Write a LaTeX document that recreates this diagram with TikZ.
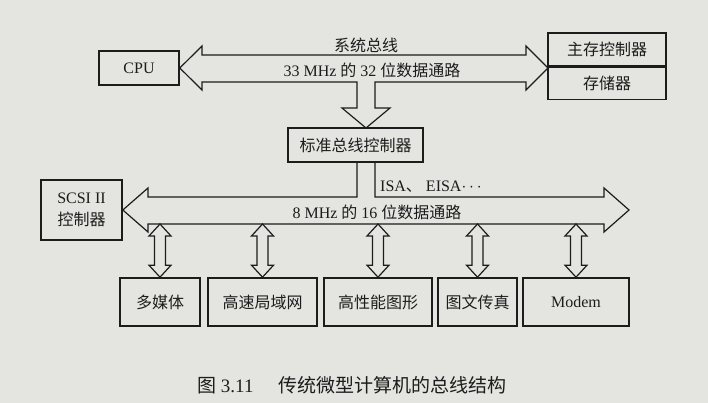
\documentclass[tikz,border=0pt]{standalone}
\usepackage{fontspec}
\setmainfont{Liberation Serif}
\newfontfamily\cjkfont{Noto Sans CJK SC}
\newcommand{\zh}[1]{{\cjkfont #1}}
\usepackage{tikz}
\usetikzlibrary{shapes,arrows,calc}
\definecolor{paper}{RGB}{228,228,225}
\definecolor{ink}{RGB}{28,28,28}

\begin{document}
\begin{tikzpicture}[x=1pt,y=-1pt,>=latex',ink,font=\fontsize{16}{19}\selectfont]
    \tikzstyle{block} = [draw, shape=rectangle, line width=1.6pt, inner sep=0pt]
    \tikzstyle{bus} = [draw, line width=1.2pt, line join=miter]
    \tikzstyle{fat} = [draw, line width=1.2pt, line join=miter]
    \tikzstyle{tmp} = [coordinate]
    %Page
    \fill[paper] (0,0) rectangle (708,403);
    \useasboundingbox (0,0) rectangle (708,403);
    %Creating Blocks
    \node [block, minimum width=80pt, minimum height=34pt] (cpu) at (139,68) {CPU};
    \node [block, minimum width=118pt, minimum height=33pt] (mc) at (607,49.5) {\zh{主存控制器}};
    \node [block, minimum width=118pt, minimum height=32pt, anchor=north] (mem) at (mc.south) {\zh{存储器}};
    \node [block, minimum width=135pt, minimum height=34pt] (ctrl) at (355.5,145) {\zh{标准总线控制器}};
    \node [block, minimum width=81pt, minimum height=60pt, align=center, font=\fontsize{16}{22}\selectfont] (scsi) at (81.5,210) {SCSI II\\\zh{控制器}};
    \node [block, minimum width=80pt, minimum height=48pt] (mm) at (160,302) {\zh{多媒体}};
    \node [block, minimum width=109pt, minimum height=48pt] (lan) at (262.5,302) {\zh{高速局域网}};
    \node [block, minimum width=108pt, minimum height=48pt] (gfx) at (378,302) {\zh{高性能图形}};
    \node [block, minimum width=79pt, minimum height=48pt] (fax) at (477.5,302) {\zh{图文传真}};
    \node [block, minimum width=106pt, minimum height=48pt] (modem) at (576,302) {Modem};
    \node [tmp] (lowbus) at (0,224) {};
    %Buses
    \draw[bus] (cpu.east) -- (202,46) -- (202,55) -- (526,55) -- (526,46) -- (548,68) -- (526,90) -- (526,82)
        -- (375,82) -- (375,108) -- (390,108) -- (366,128) -- (342,108) -- (357,108) -- (357,82)
        -- (202,82) -- (202,90) -- cycle;
    \draw[bus] (357,162) -- (357,197) -- (148,197) -- (148,188) -- (scsi.east) -- (148,232) -- (148,224)
        -- (604,224) -- (604,232) -- (629,210) -- (604,188) -- (604,197) -- (375,197) -- (375,162);
    \foreach \dev in {mm,lan,gfx,fax,modem}
        \draw[fat] let \p1=(\dev.north), \p2=(\dev.north |- lowbus) in
            (\p1) -- ++(11,-12) -- ++(-5.5,0) -- (\x1+5.5pt,\y2-12pt) -- ++(5.5,0) -- (\p2)
            -- ++(-11,12) -- ++(5.5,0) -- (\x1-5.5pt,\y1+12pt) -- ++(-5.5,0) -- cycle;
    %Labels
    \node (sysbus) at (366,45) {\zh{系统总线}};
    \node (wide) at (372,70) {33 MHz \zh{的} 32 \zh{位数据通路}};
    \node [anchor=west, inner sep=0pt] (isa) at (380,187) {ISA\zh{、} EISA$\cdots$};
    \node (narrow) at (377,212) {8 MHz \zh{的} 16 \zh{位数据通路}};
    \node [anchor=west, inner sep=0pt, font=\fontsize{19}{22}\selectfont] (caption) at (197,385) {\zh{图} 3.11\hspace{1.3em}\zh{传统微型计算机的总线结构}};
\end{tikzpicture}
\end{document}
